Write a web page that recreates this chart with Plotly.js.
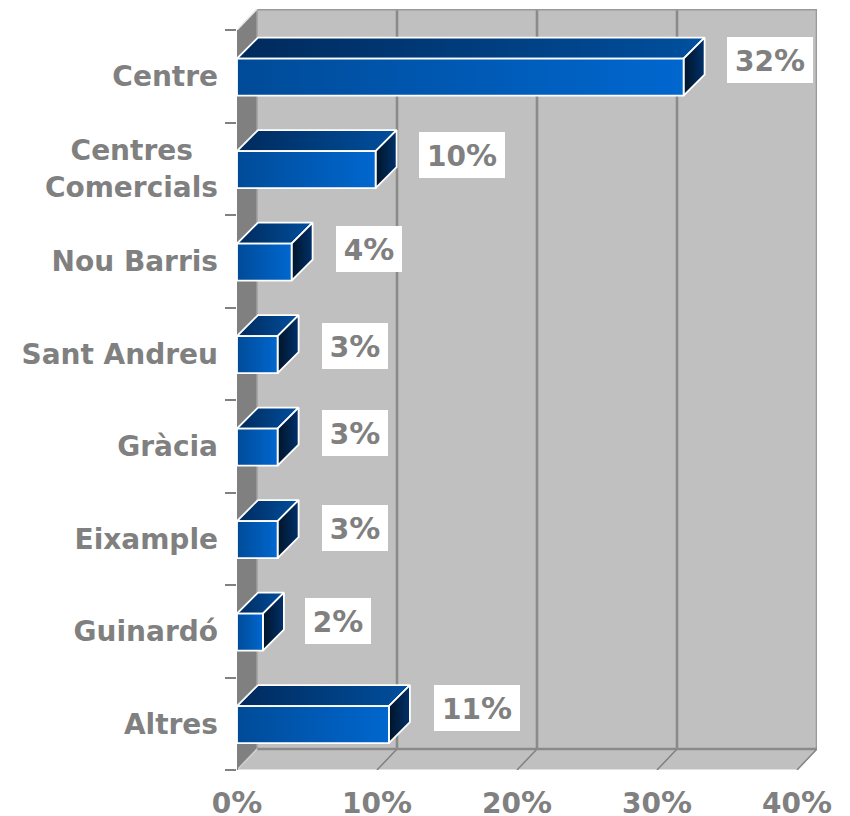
<!DOCTYPE html>
<html>
<head>
<meta charset="utf-8">
<script src="https://cdn.plot.ly/plotly-3.0.1.min.js"></script>
<style>html,body{margin:0;padding:0;background:#fff}</style>
</head>
<body>
<div id="chart" style="width:850px;height:816px"></div>
<script>
// data
var categories = ['Centre', 'Centres&nbsp;&nbsp;&#8201;<br>Comercials', 'Nou Barris', 'Sant Andreu', 'Gràcia', 'Eixample', 'Guinardó', 'Altres'];
var values = [31.9, 9.9, 3.9, 2.9, 2.9, 2.9, 1.85, 10.85];
var valueLabels = ['32%', '10%', '4%', '3%', '3%', '3%', '2%', '11%'];
var labelX = [38.1, 16.05, 9.4, 8.45, 8.45, 8.45, 7.2, 17.15];
var labelY = [-0.175, 0.85, 1.87, 2.915, 3.855, 4.885, 5.89, 6.835];
var xTicks = [0, 10, 20, 30, 40];
var xTickLabels = ['0%', '10%', '20%', '30%', '40%'];
var gridValues = [10, 20, 30, 40];

// geometry of the pseudo-3D box, in axis units
var xMax = 40, pxPerX = 14, pxPerRow = 92.5;
var wallDx = 20 / pxPerX, barDx = 21 / pxPerX, dy = 21 / pxPerRow, half = 18.5 / pxPerRow, barShift = 0.8 / pxPerRow;
var yTop = -0.5, yBot = 7.5;
var gray = '#808080';
var traces = [];

function poly(xs, ys, fill, line, width, gradient) {
  var t = {type: 'scatter', mode: 'lines', x: xs, y: ys, hoverinfo: 'skip', showlegend: false, cliponaxis: false,
    line: {color: line || 'rgba(0,0,0,0)', width: width || 0}};
  if (fill) { t.fill = 'toself'; t.fillcolor = fill; }
  if (gradient) { t.fill = 'toself'; t.fillgradient = {type: 'horizontal', colorscale: [[0, gradient[0]], [1, gradient[1]]]}; }
  traces.push(t);
}
function seg(x0, y0, x1, y1, color, width) { poly([x0, x1], [y0, y1], null, color, width); }

// walls and floor
poly([0, wallDx, wallDx, 0, 0], [yTop, yTop - dy, yBot - dy, yBot, yTop], gray);
poly([wallDx, xMax + wallDx, xMax + wallDx, wallDx, wallDx], [yTop - dy, yTop - dy, yBot - dy, yBot - dy, yTop - dy], '#c0c0c0');
poly([0, xMax, xMax + wallDx, wallDx, 0], [yBot, yBot, yBot - dy, yBot - dy, yBot], '#c0c0c0');
seg(0, yBot, xMax, yBot, '#ececec', 1.5);
gridValues.forEach(function (g) {
  seg(g + wallDx, yTop - dy, g + wallDx, yBot - dy, g === xMax ? '#999999' : '#8a8a8a', 2.6);
  seg(g, yBot, g + wallDx, yBot - dy, '#808080', 1.5);
});
seg(wallDx, yTop - dy, xMax + wallDx, yTop - dy, '#999999', 3);
seg(wallDx, yBot - dy, xMax + wallDx, yBot - dy, '#8a8a8a', 2.6);
seg(wallDx, yTop - dy, wallDx, yBot - dy, '#a0a0a0', 1.5);
seg(0, yBot, wallDx, yBot - dy, '#d0d0d0', 1.5);
seg(0, yTop, wallDx, yTop - dy, '#e8e8e8', 1.5);
seg(0, yTop, 0, yBot, gray, 2);

// bars
values.forEach(function (v, i) {
  var t = i + barShift - half, b = i + barShift + half;
  poly([0, v, v + barDx, barDx, 0], [t, t, t - dy, t - dy, t], null, '#ffffff', 1.8, ['#002a5c', '#004f9e']);
  poly([v, v + barDx, v + barDx, v, v], [t, t - dy, b - dy, b, t], null, '#ffffff', 1.8, ['#001428', '#00316b']);
  poly([0, v, v, 0, 0], [t, t, b, b, t], null, '#ffffff', 1.8, ['#004b98', '#0067cf']);
});

var boundaries = categories.map(function (c, i) { return i - 0.5; }).concat([yBot]);
var font = {family: '"DejaVu Sans", Verdana, sans-serif', size: 28, color: gray, weight: 'bold'};
function pct(txt) { return txt.replace('%', '<span style="font-size:31px">%</span>'); }

var layout = {
  width: 850, height: 816,
  margin: {l: 237, r: 33, t: 9, b: 46, pad: 0},
  paper_bgcolor: '#ffffff', plot_bgcolor: '#ffffff',
  showlegend: false,
  xaxis: {
    range: [0, xMax + wallDx], showgrid: false, zeroline: false, showline: false,
    tickmode: 'array', tickvals: xTicks, ticktext: xTickLabels.map(pct), ticks: '', ticklabelstandoff: 14, tickfont: font, ticklabeloverflow: 'allow', automargin: false
  },
  yaxis: {
    range: [yBot, yTop - dy], showgrid: false, zeroline: false, showline: false,
    tickmode: 'array', tickvals: categories.map(function (c, i) { return i; }), ticktext: categories,
    ticks: '', ticklabelstandoff: 18, tickfont: font, automargin: false,
    minor: {tickmode: 'array', tickvals: boundaries, ticks: 'outside', ticklen: 11, tickwidth: 2, tickcolor: gray, showgrid: false}
  },
  annotations: valueLabels.map(function (txt, i) {
    return {
      text: pct(txt), x: labelX[i], y: labelY[i], xref: 'x', yref: 'y', showarrow: false,
      bgcolor: '#ffffff', width: txt.length === 3 ? 86 : 66, height: 46, align: 'center', valign: 'middle', font: font,
      borderpad: 0, borderwidth: 0
    };
  })
};

Plotly.newPlot('chart', traces, layout, {displayModeBar: false, staticPlot: true});
</script>
</body>
</html>
